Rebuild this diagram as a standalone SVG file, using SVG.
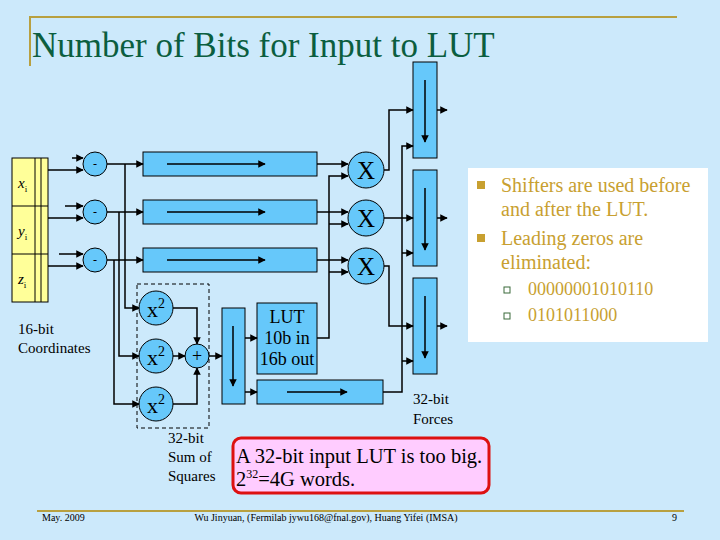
<svg xmlns="http://www.w3.org/2000/svg" width="720" height="540" viewBox="0 0 720 540">
<defs>
<marker id="ah" viewBox="0 0 10 10" refX="9" refY="5" markerWidth="5" markerHeight="5" orient="auto"><path d="M0,0 L10,5 L0,10 z" fill="#000"/></marker>
<style>
.blk{fill:#66c8fa;stroke:#000;stroke-width:1}
.la{fill:none;stroke:#000;stroke-width:1.5;marker-end:url(#ah)}
text{font-family:'Liberation Serif','Times New Roman',serif}
</style>
</defs>
<rect width="720" height="540" fill="#cce9fb"/>
<g fill="#000">
<path d="M30,66 V17 H677" fill="none" stroke="#b8a040" stroke-width="2"/>
<text x="32" y="57" font-size="35" fill="#0b5e3f">Number of Bits for Input to LUT</text>
<rect x="468" y="168" width="240" height="174" fill="#fff"/>
<g fill="#c8a030" font-size="20">
<rect x="477" y="181" width="8" height="8"/>
<text x="501" y="192">Shifters are used before</text>
<text x="501" y="216">and after the LUT.</text>
<rect x="477" y="234" width="8" height="8"/>
<text x="501" y="245">Leading zeros are</text>
<text x="501" y="269">eliminated:</text>
<rect x="504" y="287" width="6" height="6" fill="none" stroke="#3a6a3a"/>
<text x="528" y="295" font-size="18">00000001010110</text>
<rect x="504" y="313" width="6" height="6" fill="none" stroke="#3a6a3a"/>
<text x="528" y="321" font-size="18">0101011000</text>
</g>

<g id="coords">
<rect x="12" y="158" width="36" height="144" fill="#ffff99" stroke="#000"/>
<path d="M35,158V302M41,158V302M12,206H48M12,254H48" stroke="#000" fill="none"/>
<text x="18" y="188" font-size="15" font-style="italic">x<tspan font-size="9" dy="4" font-style="normal">i</tspan></text>
<text x="18" y="236" font-size="15" font-style="italic">y<tspan font-size="9" dy="4" font-style="normal">i</tspan></text>
<text x="18" y="284" font-size="15" font-style="italic">z<tspan font-size="9" dy="4" font-style="normal">i</tspan></text>
<text x="18" y="334" font-size="15">16-bit</text>
<text x="18" y="353" font-size="15">Coordinates</text>
</g>
<g id="subs" font-size="12" text-anchor="middle">
<circle cx="95" cy="164" r="12" class="blk"/><text x="95" y="168">-</text>
<circle cx="95" cy="212" r="12" class="blk"/><text x="95" y="216">-</text>
<circle cx="95" cy="260" r="12" class="blk"/><text x="95" y="264">-</text>
</g>
<g id="shifts">
<rect x="143" y="152" width="174" height="24" class="blk"/>
<rect x="143" y="200" width="174" height="24" class="blk"/>
<rect x="143" y="248" width="174" height="24" class="blk"/>
<path d="M167,164H265" class="la"/><path d="M167,212H265" class="la"/><path d="M167,260H265" class="la"/>
</g>
<g id="mults" font-size="25" text-anchor="middle">
<circle cx="366" cy="170" r="18" class="blk"/><text x="366" y="179">X</text>
<circle cx="366" cy="218" r="18" class="blk"/><text x="366" y="227">X</text>
<circle cx="366" cy="266" r="18" class="blk"/><text x="366" y="275">X</text>
</g>
<g id="squares">
<rect x="137" y="284" width="72" height="144" fill="none" stroke="#000" stroke-dasharray="4,3"/>
<g font-size="22" text-anchor="middle">
<circle cx="156" cy="308" r="17" class="blk"/><text x="156" y="317">x<tspan font-size="14" dy="-9">2</tspan></text>
<circle cx="156" cy="356" r="17" class="blk"/><text x="156" y="365">x<tspan font-size="14" dy="-9">2</tspan></text>
<circle cx="156" cy="404" r="17" class="blk"/><text x="156" y="413">x<tspan font-size="14" dy="-9">2</tspan></text>
<circle cx="197" cy="356" r="12" class="blk"/><text x="197" y="362" font-size="18">+</text>
</g>
<text x="168" y="443" font-size="15">32-bit</text>
<text x="168" y="462" font-size="15">Sum of</text>
<text x="168" y="481" font-size="15">Squares</text>
</g>
<g id="preshift">
<rect x="222" y="308" width="23" height="96" class="blk"/>
<path d="M233,326V386" class="la"/>
</g>
<g id="lut" font-size="18" text-anchor="middle">
<rect x="257" y="303" width="60" height="71" class="blk"/>
<text x="287" y="323">LUT</text>
<text x="287" y="344">10b in</text>
<text x="287" y="365">16b out</text>
</g>
<g id="expshift">
<rect x="257" y="380" width="126" height="24" class="blk"/>
<path d="M287,392H347" class="la"/>
</g>
<g id="postshifts">
<rect x="413" y="62" width="24" height="96" class="blk"/>
<rect x="413" y="170" width="24" height="96" class="blk"/>
<rect x="413" y="278" width="24" height="96" class="blk"/>
<path d="M425,80V142" class="la"/><path d="M425,188V250" class="la"/><path d="M425,296V358" class="la"/>
<text x="413" y="404" font-size="15">32-bit</text>
<text x="413" y="424" font-size="15">Forces</text>
</g>
<g id="connectors">
<path d="M72,158H83" class="la"/><path d="M48,170H83" class="la"/>
<path d="M65,206H83" class="la"/><path d="M48,218H83" class="la"/>
<path d="M59,254H83" class="la"/><path d="M48,266H83" class="la"/>
<path d="M107,164H143" class="la"/><path d="M107,212H143" class="la"/><path d="M107,260H143" class="la"/>
<path d="M125,164V308H139" class="la"/><path d="M119,212V356H139" class="la"/><path d="M114,260V404H139" class="la"/>
<path d="M317,164H348" class="la"/><path d="M317,212H348" class="la"/><path d="M317,260H348" class="la"/>
<path d="M317,338H329V176H348" class="la"/><path d="M329,224H348" class="la"/><path d="M329,272H348" class="la"/>
<path d="M173,308H197V344" class="la"/><path d="M173,404H197V368" class="la"/><path d="M173,356H185" class="la"/>
<path d="M209,356H222" class="la"/><path d="M245,338H257" class="la"/><path d="M245,392H257" class="la"/>
<path d="M384,170H389V110H413" class="la"/><path d="M384,218H413" class="la"/><path d="M384,266H389V326H413" class="la"/>
<path d="M383,392H402V146H413" class="la"/><path d="M402,253H413" class="la"/><path d="M402,361H413" class="la"/>
<path d="M437,110H447" class="la"/><path d="M437,218H447" class="la"/><path d="M437,326H447" class="la"/>
</g>
<g id="note">
<rect x="233" y="438" width="256" height="55" rx="8" fill="#ffccff" stroke="#dd1111" stroke-width="3"/>
<text x="236" y="463" font-size="20.5">A 32-bit input LUT is too big.</text>
<text x="236" y="486" font-size="20.5">2<tspan font-size="12" dy="-8">32</tspan><tspan dy="8">=4G words.</tspan></text>
</g>
<path d="M37,511H684" stroke="#b8a040" stroke-width="2"/>
<text x="42" y="521" font-size="10">May. 2009</text>
<text x="326" y="521" font-size="10" text-anchor="middle">Wu Jinyuan, (Fermilab jywu168@fnal.gov), Huang Yifei (IMSA)</text>
<text x="672" y="521" font-size="10">9</text>
</g>
</svg>
